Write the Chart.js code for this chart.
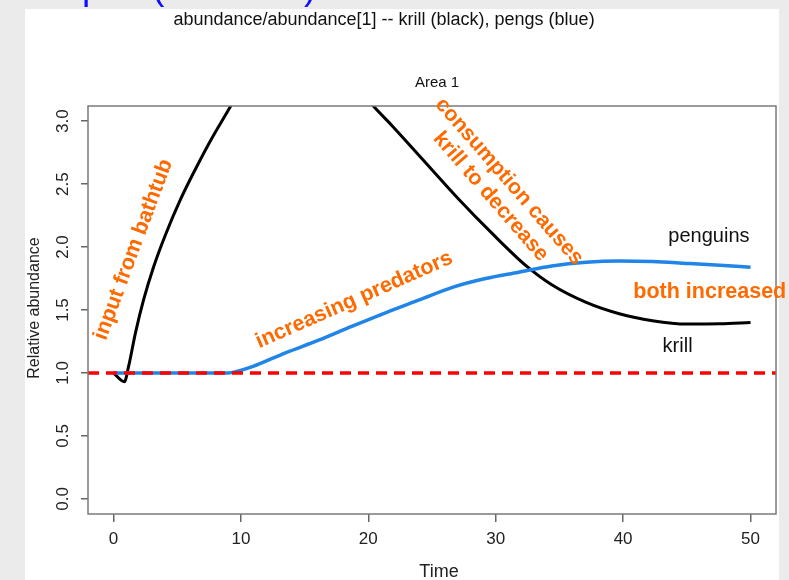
<!DOCTYPE html>
<html lang="en">
<head>
  <meta charset="UTF-8" />
  <title>Krill and penguins - Area 1</title>
  <script src="https://cdn.jsdelivr.net/npm/chart.js"></script>
  <style>
    html, body { margin: 0; padding: 0; background: #ebebeb; }
    canvas { display: block; }
  </style>
</head>
<body>
<canvas id="abundChart" width="789" height="580"></canvas>

<script>
  // axis ticks
  const xTicks = [0, 10, 20, 30, 40, 50];
  const yTicks = [0, 0.5, 1, 1.5, 2, 2.5, 3];
  const yTickLabels = ["0.0", "0.5", "1.0", "1.5", "2.0", "2.5", "3.0"];

  // krill (black) - relative abundance (goes off the top between ~9 and ~20)
  const krillTime  = [0, 0.86, 1.18, 1.73, 2.36, 3.14, 4.09, 5.27, 6.44, 7.7, 9.2, 10.5, 12, 14, 16, 18, 19.3, 20.3, 21.9, 24.5, 27.1, 29.7, 32.4, 34.4, 37.1, 39.7, 42.3, 45, 47.6, 50];
  const krillAbund = [1.0, 0.93, 1.05, 1.32, 1.58, 1.84, 2.10, 2.38, 2.62, 2.86, 3.12, 3.36, 3.52, 3.62, 3.58, 3.40, 3.25, 3.13, 2.96, 2.67, 2.38, 2.11, 1.85, 1.70, 1.56, 1.47, 1.415, 1.388, 1.39, 1.40];

  // penguins (blue)
  const pengTime  = [0, 5, 9.0, 9.6, 10.9, 13.5, 16.1, 18.7, 21.4, 24, 26.6, 29.2, 31.8, 34.4, 37.1, 39.7, 42.3, 45, 47.6, 50];
  const pengAbund = [1.0, 1.0, 1.0, 1.01, 1.05, 1.16, 1.26, 1.37, 1.48, 1.58, 1.68, 1.75, 1.80, 1.85, 1.88, 1.89, 1.885, 1.87, 1.855, 1.84];

  const baseline = 1;   // abline(h=1)
  const xMin = -2, xMax = 52;
  const yMin = -0.12, yMax = 3.12;

  const toPoints = (xs, ys) => xs.map((x, i) => ({ x: x, y: ys[i] }));

  // notes placed in data units
  const notes = [
    { text: "input from bathtub",   x: 1.57, y: 1.98, angle: -69.6, color: "#ff6a00", bold: true, size: 21.5, align: "center" },
    { text: "increasing predators", x: 18.9, y: 1.58, angle: -23.8, color: "#ff6a00", bold: true, size: 21.5, align: "center" },
    { text: "consumption causes",   x: 31.05, y: 2.52, angle: 49,   color: "#ff6a00", bold: true, size: 21.5, align: "center" },
    { text: "krill to decrease",    x: 29.6, y: 2.40, angle: 49,    color: "#ff6a00", bold: true, size: 21.5, align: "center" },
    { text: "both increased",       x: 40.8, y: 1.64, angle: 0,     color: "#ff6a00", bold: true, size: 21.5, align: "left" },
    { text: "penguins",             x: 43.55, y: 2.08, angle: 0,    color: "#111", bold: false, size: 20, align: "left" },
    { text: "krill",                x: 43.1, y: 1.21, angle: 0,     color: "#111", bold: false, size: 20, align: "left" }
  ];

  const FONT = "'Liberation Sans', Arial, sans-serif";

  const decorPlugin = {
    id: "decor",
    beforeDraw(chart) {
      const c = chart.ctx;
      c.save();
      c.fillStyle = "#ebebeb";
      c.fillRect(0, 0, chart.width, chart.height);
      c.fillStyle = "#ffffff";
      c.fillRect(25, 9, 754, chart.height - 9);
      // slide heading, cut off at the top edge
      c.fillStyle = "#1010ff";
      c.font = "37px " + FONT;
      c.textAlign = "left";
      c.textBaseline = "alphabetic";
      c.fillText("Krill plot (rescaled)", 10, -1);
      c.restore();
    },
    afterDraw(chart) {
      const c = chart.ctx;
      const a = chart.chartArea;
      const xs = chart.scales.x, ys = chart.scales.y;
      c.save();

      // box round the plot
      c.strokeStyle = "#7a7a7a";
      c.lineWidth = 1.5;
      c.strokeRect(a.left, a.top, a.right - a.left, a.bottom - a.top);

      // y tick labels, rotated like R
      c.fillStyle = "#222";
      c.font = "17px " + FONT;
      c.textAlign = "center";
      c.textBaseline = "middle";
      yTicks.forEach((v, i) => {
        c.save();
        c.translate(63, ys.getPixelForValue(v));
        c.rotate(-Math.PI / 2);
        c.fillText(yTickLabels[i], 0, 0);
        c.restore();
      });

      // axis titles
      c.font = "16px " + FONT;
      c.save();
      c.translate(35, 308);
      c.rotate(-Math.PI / 2);
      c.fillText("Relative abundance", 0, 0);
      c.restore();
      c.font = "18px " + FONT;
      c.fillText("Time", 439, 572);

      // titles
      c.fillStyle = "#111";
      c.font = "15px " + FONT;
      c.fillText("Area 1", 437, 83);
      c.font = "18px " + FONT;
      c.fillText("abundance/abundance[1] -- krill (black), pengs (blue)", 384, 20);

      // notes
      notes.forEach(n => {
        c.save();
        c.translate(xs.getPixelForValue(n.x), ys.getPixelForValue(n.y));
        c.rotate(n.angle * Math.PI / 180);
        c.fillStyle = n.color;
        c.font = (n.bold ? "bold " : "") + n.size + "px " + FONT;
        c.textAlign = n.align;
        c.textBaseline = "middle";
        c.fillText(n.text, 0, 0);
        c.restore();
      });

      c.restore();
    }
  };

  new Chart(document.getElementById("abundChart"), {
    type: "line",
    data: {
      datasets: [
        {
          label: "baseline",
          data: toPoints([xMin, xMax], [baseline, baseline]),
          borderColor: "#ff0000",
          borderWidth: 3.5,
          borderDash: [11, 7],
          pointRadius: 0,
          clip: 0,
          order: 0
        },
        {
          label: "penguins",
          data: toPoints(pengTime, pengAbund),
          borderColor: "#2185e8",
          borderWidth: 3.5,
          pointRadius: 0,
          cubicInterpolationMode: "monotone",
          clip: 0,
          order: 1
        },
        {
          label: "krill",
          data: toPoints(krillTime, krillAbund),
          borderColor: "#000000",
          borderWidth: 3,
          pointRadius: 0,
          cubicInterpolationMode: "monotone",
          clip: 0,
          order: 2
        }
      ]
    },
    options: {
      responsive: false,
      animation: false,
      layout: { padding: { left: 0, top: 106, right: 13, bottom: 0 } },
      plugins: { legend: { display: false }, tooltip: { enabled: false } },
      scales: {
        x: {
          type: "linear",
          min: xMin,
          max: xMax,
          afterBuildTicks: s => { s.ticks = xTicks.map(v => ({ value: v })); },
          afterFit: s => { s.height = 66; },
          ticks: {
            color: "#222",
            font: { family: FONT, size: 17 },
            padding: 7,
            maxRotation: 0,
            callback: v => String(v)
          },
          grid: { drawOnChartArea: false, drawTicks: true, tickLength: 8, color: "#666", lineWidth: 1.5 },
          border: { display: false }
        },
        y: {
          type: "linear",
          min: yMin,
          max: yMax,
          afterBuildTicks: s => { s.ticks = yTicks.map(v => ({ value: v })); },
          afterFit: s => { s.width = 88; },
          ticks: { display: false },
          grid: { drawOnChartArea: false, drawTicks: true, tickLength: 7, color: "#666", lineWidth: 1.5 },
          border: { display: false }
        }
      }
    },
    plugins: [decorPlugin]
  });
</script>
</body>
</html>
